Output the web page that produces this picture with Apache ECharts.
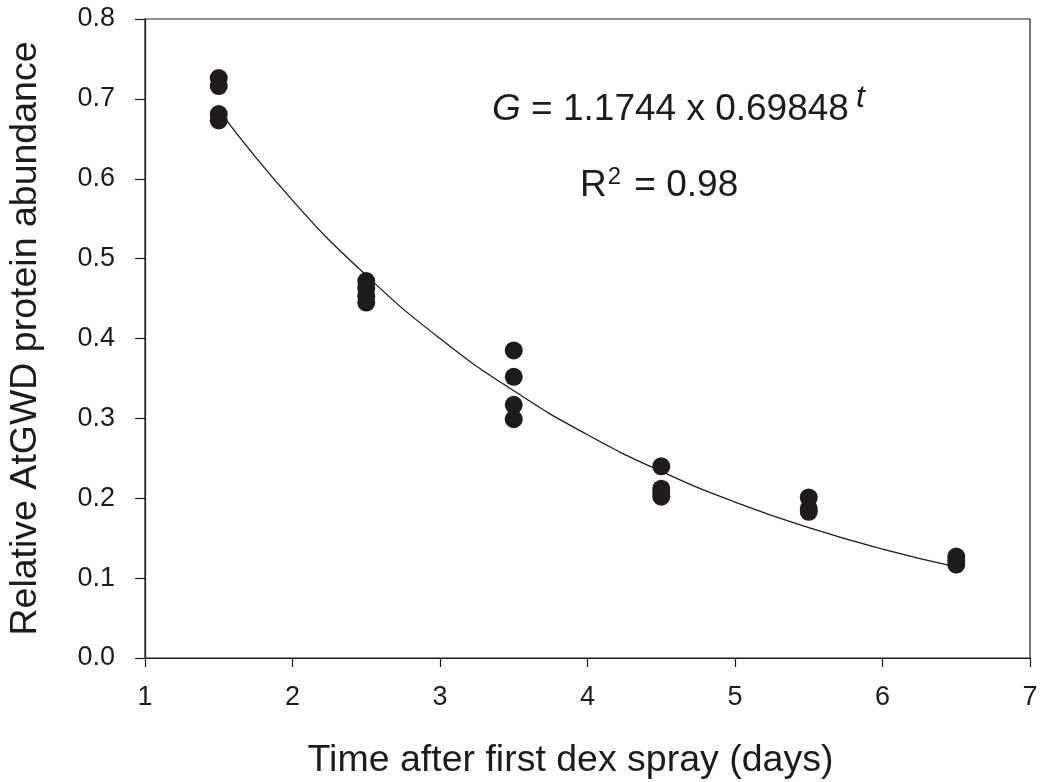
<!DOCTYPE html>
<html><head><meta charset="utf-8">
<script src="https://cdn.jsdelivr.net/npm/echarts@6/dist/echarts.min.js"></script>
<style>html,body{margin:0;padding:0;background:#fff}#c{width:1040px;height:782px}</style>
</head><body><div id="c"></div>
<script>
// Observed data (days, relative abundance)
const days = [1.5, 2.5, 3.5, 4.5, 5.5, 6.5];
const obs_1_5 = [0.726, 0.716, 0.681, 0.673];
const obs_2_5 = [0.472, 0.463, 0.453, 0.445];
const obs_3_5 = [0.385, 0.352, 0.317, 0.299];
const obs_4_5 = [0.240, 0.212, 0.207, 0.202];
const obs_5_5 = [0.201, 0.187, 0.183];
const obs_6_5 = [0.127, 0.122, 0.117];
// Fitted curve
const curveT = [1.5, 2.0, 2.5, 3.0, 3.5, 4.0, 4.5, 5.0, 5.5, 6.0, 6.5];
const curveG = [0.686, 0.573, 0.479, 0.400, 0.3345, 0.2795, 0.2336, 0.1952, 0.1632, 0.1364, 0.1140];
const xTicks = [1, 2, 3, 4, 5, 6, 7];
const yTicks = [0.0, 0.1, 0.2, 0.3, 0.4, 0.5, 0.6, 0.7, 0.8];

const groups = [obs_1_5, obs_2_5, obs_3_5, obs_4_5, obs_5_5, obs_6_5];
const scatterData = [];
groups.forEach((g, i) => g.forEach(v => scatterData.push([days[i], v])));
const curveData = curveT.map((t, i) => [t, curveG[i]]);

const FONT = 'Liberation Sans, Arial, sans-serif';
const INK = '#1e1b1c';
const chart = echarts.init(document.getElementById('c'), null, {renderer: 'canvas'});
chart.setOption({
  animation: false,
  backgroundColor: '#fff',
  grid: {left: 145, right: 10, top: 19, bottom: 124, containLabel: false, outerBoundsMode: 'none',
         show: true, borderColor: INK, borderWidth: 1.2, backgroundColor: 'transparent'},
  xAxis: {
    type: 'value', min: xTicks[0], max: xTicks[xTicks.length - 1], interval: 1,
    name: 'Time after first dex spray (days)', nameLocation: 'middle', nameGap: 84,
    nameTextStyle: {fontFamily: FONT, fontSize: 37.5, color: INK, padding: [0, 34, 0, 0]},
    axisLine: {show: true, onZero: false, lineStyle: {color: INK, width: 1.2}},
    axisTick: {show: true, inside: false, length: 9, lineStyle: {color: INK, width: 1.2}},
    axisLabel: {fontFamily: FONT, fontSize: 27, color: INK, margin: 26},
    splitLine: {show: false}
  },
  yAxis: {
    type: 'value', min: yTicks[0], max: yTicks[yTicks.length - 1], interval: 0.1,
    name: 'Relative AtGWD protein abundance', nameLocation: 'middle', nameGap: 100,
    nameTextStyle: {fontFamily: FONT, fontSize: 37.5, color: INK},
    axisLine: {show: true, onZero: false, lineStyle: {color: INK, width: 1.2}},
    axisTick: {show: true, inside: false, length: 10, lineStyle: {color: INK, width: 1.2}},
    axisLabel: {fontFamily: FONT, fontSize: 27, color: INK, margin: 30, formatter: v => v.toFixed(1)},
    splitLine: {show: false}
  },
  series: [
    {type: 'line', data: curveData, smooth: true, showSymbol: false, symbol: 'none',
     lineStyle: {color: INK, width: 1.3}, z: 2},
    {type: 'scatter', data: scatterData, symbol: 'circle', symbolSize: 18,
     itemStyle: {color: INK, opacity: 1}, z: 3}
  ],
  graphic: [
    {type: 'text', left: 492, top: 82, style: {
      text: '{i|G} = 1.1744 x 0.69848{sup|t}',
      font: '37px ' + FONT, fill: INK,
      rich: {
        i: {fontFamily: FONT, fontSize: 37, fontStyle: 'italic', fill: INK},
        sup: {fontFamily: FONT, fontSize: 32, fontStyle: 'italic', fill: INK, padding: [0, 0, 24, 7]}
      }}},
    {type: 'text', left: 580, top: 165, style: {
      text: 'R{s|2} = 0.98',
      font: '37px ' + FONT, fill: INK,
      rich: {s: {fontFamily: FONT, fontSize: 24, fill: INK, padding: [0, 3, 18, 1]}}}}
  ]
});
</script></body></html>
